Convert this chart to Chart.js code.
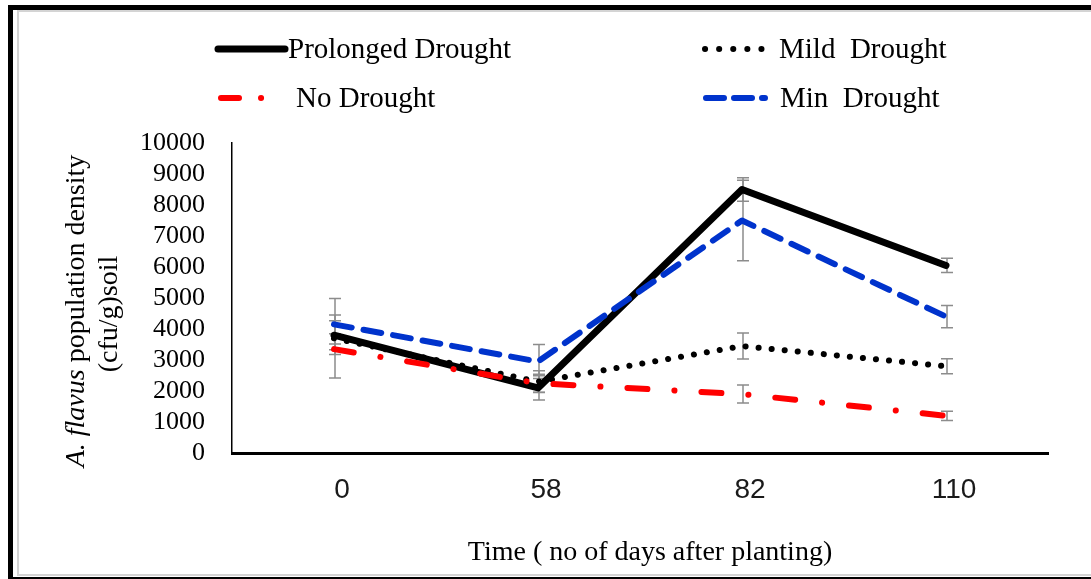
<!DOCTYPE html>
<html>
<head>
<meta charset="utf-8">
<script src="https://cdn.jsdelivr.net/npm/chart.js@4"></script>
<style>
  html, body { margin: 0; padding: 0; background: #fff; }
  #wrap { position: relative; width: 1091px; height: 579px; overflow: hidden; }
  .frame { position: absolute; left: 8px; top: 5px; right: -10px; bottom: 0;
           border-top: 5px solid #000; border-left: 5px solid #000; border-bottom: 2px solid #000; }
  .inner { position: absolute; left: 17px; top: 10px; right: -10px; bottom: 3px;
           border-top: 2px solid #d4d4d4; border-left: 2px solid #d4d4d4; border-bottom: 2px solid #d4d4d4; }
  canvas { position: absolute; left: 0; top: 0; }
</style>
</head>
<body>
<div id="wrap">
  <div class="frame"></div>
  <div class="inner"></div>
  <canvas id="chart" width="1091" height="579"></canvas>
</div>
<script>
// Data
const days = ['0', '58', '82', '110'];
const yTicks = [0, 1000, 2000, 3000, 4000, 5000, 6000, 7000, 8000, 9000, 10000];

const prolonged = [3800, 2100, 8500, 6050];
const prolongedErr = [470, 390, 380, 230];
const mild = [3700, 2300, 3450, 2800];
const mildErr = [1280, 350, 420, 240];
const noDrought = [3350, 2250, 1900, 1200];
const noDroughtErr = [170, 290, 290, 150];
const minDrought = [4150, 2950, 7500, 4400];
const minDroughtErr = [300, 550, 1300, 360];

const yTitle1 = ['A. flavus', ' population density'];
const yTitle2 = '(cfu/g)soil';
const xTitle = 'Time ( no of days after planting)';

const serif = '"Liberation Serif", "Times New Roman", serif';
const sans = '"Liberation Sans", Arial, sans-serif';

// gray error bars, drawn under the lines
const errorBars = {
    id: 'errorBars',
    beforeDatasetsDraw(chart) {
        const ctx = chart.ctx;
        const y = chart.scales.y;
        ctx.save();
        ctx.strokeStyle = '#8c8c8c';
        ctx.lineWidth = 1.5;
        chart.data.datasets.forEach((ds, i) => {
            const meta = chart.getDatasetMeta(i);
            meta.data.forEach((pt, j) => {
                const e = ds.errors[j];
                const top = y.getPixelForValue(ds.data[j] + e);
                const bot = y.getPixelForValue(ds.data[j] - e);
                const x = pt.x + 1;
                ctx.beginPath();
                ctx.moveTo(x, top); ctx.lineTo(x, bot);
                ctx.moveTo(x - 6, top); ctx.lineTo(x + 6, top);
                ctx.moveTo(x - 6, bot); ctx.lineTo(x + 6, bot);
                ctx.stroke();
            });
        });
        ctx.restore();
    }
};

// legend in two columns and the axis titles
const extras = {
    id: 'extras',
    afterDraw(chart) {
        const ctx = chart.ctx;
        const ds = chart.data.datasets;
        const items = [
            { d: ds[0], x1: 218, x2: 285, tx: 288, y: 49 },
            { d: ds[1], x1: 705, x2: 765, tx: 779, y: 49 },
            { d: ds[2], x1: 221, x2: 264, tx: 296, y: 98 },
            { d: ds[3], x1: 706, x2: 765, tx: 780, y: 98 }
        ];
        ctx.save();
        items.forEach(it => {
            ctx.strokeStyle = it.d.borderColor;
            ctx.lineWidth = it.d.borderWidth;
            ctx.lineCap = 'round';
            ctx.setLineDash(it.d.legendDash || it.d.borderDash || []);
            ctx.beginPath();
            ctx.moveTo(it.x1, it.y);
            ctx.lineTo(it.x2, it.y);
            ctx.stroke();
            ctx.setLineDash([]);
            ctx.fillStyle = '#000';
            ctx.font = '29px ' + serif;
            ctx.textBaseline = 'middle';
            ctx.textAlign = 'left';
            ctx.fillText(it.d.label, it.tx, it.y + 1);
        });

        // x title
        ctx.font = '28px ' + serif;
        ctx.textAlign = 'center';
        ctx.fillText(xTitle, 650, 553);

        // y title, two rotated lines, "A. flavus" in italic
        ctx.translate(77, 311);
        ctx.rotate(-Math.PI / 2);
        const fItal = 'italic 28px ' + serif;
        const fNorm = '28px ' + serif;
        ctx.font = fItal;
        const w1 = ctx.measureText(yTitle1[0]).width;
        ctx.font = fNorm;
        const w2 = ctx.measureText(yTitle1[1]).width;
        let sx = -(w1 + w2) / 2;
        ctx.textAlign = 'left';
        ctx.font = fItal;
        ctx.fillText(yTitle1[0], sx, 0);
        ctx.font = fNorm;
        ctx.fillText(yTitle1[1], sx + w1, 0);
        ctx.textAlign = 'center';
        ctx.fillText(yTitle2, -3, 33);
        ctx.restore();
    }
};

new Chart(document.getElementById('chart').getContext('2d'), {
    type: 'line',
    data: {
        labels: days,
        datasets: [
            {
                label: 'Prolonged Drought',
                data: prolonged,
                errors: prolongedErr,
                borderColor: '#000000',
                borderWidth: 7,
                order: 4
            },
            {
                label: 'Mild  Drought',
                data: mild,
                errors: mildErr,
                borderColor: '#000000',
                borderWidth: 6,
                borderDash: [0.1, 13],
                legendDash: [0.1, 14],
                order: 3
            },
            {
                label: 'No Drought',
                data: noDrought,
                errors: noDroughtErr,
                borderColor: '#ff0000',
                borderWidth: 6,
                borderDash: [20, 27, 0.1, 27],
                legendDash: [18, 22, 0.1, 40],
                order: 2
            },
            {
                label: 'Min  Drought',
                data: minDrought,
                errors: minDroughtErr,
                borderColor: '#0033cc',
                borderWidth: 6,
                borderDash: [18, 12],
                legendDash: [18, 10],
                order: 1
            }
        ]
    },
    options: {
        responsive: false,
        animation: false,
        layout: { padding: { left: 0, right: 43, top: 143, bottom: 0 } },
        elements: {
            point: { radius: 0 },
            line: { tension: 0, borderCapStyle: 'round', borderJoinStyle: 'round', fill: false }
        },
        plugins: {
            legend: { display: false },
            tooltip: { enabled: false }
        },
        scales: {
            x: {
                type: 'category',
                offset: true,
                grid: { display: false, drawTicks: false },
                border: { display: true, color: '#000', width: 3 },
                ticks: { font: { family: sans, size: 28 }, color: '#1a1a1a', padding: 20, labelOffset: 8 },
                afterFit(scale) { scale.height = 579 - 453; }
            },
            y: {
                min: yTicks[0],
                max: yTicks[yTicks.length - 1],
                afterBuildTicks(scale) { scale.ticks = yTicks.map(v => ({ value: v })); },
                grid: { display: false, drawTicks: false },
                border: { display: true, color: '#000', width: 1.5 },
                ticks: {
                    font: { family: serif, size: 26 },
                    color: '#000',
                    padding: 27,
                    autoSkip: false,
                    callback: v => String(v)
                },
                afterFit(scale) { scale.width = 232; }
            }
        }
    },
    plugins: [errorBars, extras]
});
</script>
</body>
</html>
